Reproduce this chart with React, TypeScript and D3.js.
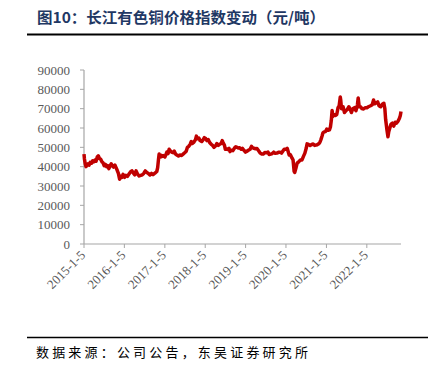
import React from "react";
import * as d3 from "d3";

const dates: string[] = [
  "2015-01-05","2015-01-09","2015-01-16","2015-01-23","2015-01-30","2015-02-10","2015-02-20","2015-03-02","2015-03-13","2015-03-24","2015-04-03","2015-04-14","2015-04-24","2015-05-05","2015-05-14","2015-05-25","2015-06-05","2015-06-16","2015-06-26","2015-07-07","2015-07-17","2015-07-28","2015-08-07","2015-08-18","2015-08-28","2015-09-08","2015-09-18","2015-09-29","2015-10-12","2015-10-22","2015-11-02","2015-11-12","2015-11-23","2015-12-03","2015-12-14","2015-12-24",
  "2016-01-08","2016-01-20","2016-02-02","2016-02-19","2016-03-03","2016-03-14","2016-03-25","2016-04-08","2016-04-20","2016-05-05","2016-05-18","2016-06-01","2016-06-15","2016-06-28","2016-07-12","2016-07-26","2016-08-09","2016-08-23","2016-09-06","2016-09-20","2016-10-10","2016-10-24","2016-11-01","2016-11-08","2016-11-14","2016-11-22","2016-11-29","2016-12-08","2016-12-20",
  "2017-01-05","2017-01-16","2017-01-23","2017-02-03","2017-02-13","2017-02-24","2017-03-07","2017-03-20","2017-03-31","2017-04-12","2017-04-24","2017-05-08","2017-05-22","2017-06-05","2017-06-19","2017-07-03","2017-07-17","2017-07-28","2017-08-08","2017-08-21","2017-09-01","2017-09-11","2017-09-22","2017-10-09","2017-10-17","2017-10-27","2017-11-08","2017-11-20","2017-12-04","2017-12-18","2017-12-28",
  "2018-01-09","2018-01-19","2018-02-01","2018-02-14","2018-03-01","2018-03-13","2018-03-26","2018-04-10","2018-04-20","2018-05-03","2018-05-16","2018-05-29","2018-06-08","2018-06-15","2018-06-28","2018-07-06","2018-07-16","2018-07-27","2018-08-08","2018-08-17","2018-08-30","2018-09-12","2018-09-25","2018-10-08","2018-10-19","2018-10-31","2018-11-12","2018-11-26","2018-12-07","2018-12-20",
  "2019-01-04","2019-01-17","2019-01-30","2019-02-15","2019-02-27","2019-03-08","2019-03-22","2019-04-04","2019-04-18","2019-05-06","2019-05-17","2019-05-31","2019-06-14","2019-06-28","2019-07-12","2019-07-26","2019-08-06","2019-08-20","2019-09-03","2019-09-16","2019-09-30","2019-10-15","2019-10-29","2019-11-12","2019-11-26","2019-12-10","2019-12-20",
  "2020-01-06","2020-01-16","2020-02-03","2020-02-14","2020-02-28","2020-03-09","2020-03-19","2020-03-24","2020-04-03","2020-04-15","2020-04-29","2020-05-15","2020-05-29","2020-06-10","2020-06-24","2020-07-06","2020-07-14","2020-07-27","2020-08-10","2020-08-24","2020-09-07","2020-09-21","2020-10-13","2020-10-27","2020-11-06","2020-11-16","2020-11-27","2020-12-04","2020-12-15","2020-12-28",
  "2021-01-08","2021-01-20","2021-02-01","2021-02-10","2021-02-18","2021-02-25","2021-03-05","2021-03-15","2021-03-26","2021-04-08","2021-04-20","2021-04-30","2021-05-10","2021-05-14","2021-05-21","2021-06-04","2021-06-17","2021-06-30","2021-07-12","2021-07-26","2021-08-05","2021-08-19","2021-08-31","2021-09-15","2021-09-29","2021-10-12","2021-10-19","2021-10-28","2021-11-09","2021-11-22","2021-12-06","2021-12-20",
  "2022-01-06","2022-01-19","2022-02-08","2022-02-23","2022-03-07","2022-03-17","2022-03-30","2022-04-13","2022-04-25","2022-05-10","2022-05-25","2022-06-08","2022-06-17","2022-06-24","2022-07-06","2022-07-15","2022-07-22","2022-08-01","2022-08-12","2022-08-24","2022-09-05","2022-09-19","2022-09-30","2022-10-14","2022-10-27","2022-11-04","2022-11-10"
];

const prices: number[] = [
  46500,44000,41500,40000,40800,41500,40800,42200,41800,43000,42500,43400,42800,45000,45600,44200,43800,42500,42000,40500,41200,40000,40600,39000,40200,41500,40500,39800,40800,39500,38000,36500,33500,35000,34500,36000,
  34500,35500,35000,36500,37500,37800,36800,35800,37800,36000,35200,35500,35800,36500,37800,37000,36500,35700,36500,35900,36800,37500,39500,43500,46500,45000,46000,45200,45800,
  45000,46500,47500,46800,49000,48200,47500,47200,48000,46500,46000,45500,46000,45800,46500,47200,48000,50000,50500,51500,53000,52000,52500,54000,55800,54500,54800,53500,53000,54000,55000,
  54600,53500,54000,52500,51500,51000,50000,50800,52000,51000,51600,52000,53500,52500,51000,49000,49200,48900,49500,47800,48500,48300,49500,50300,50000,49600,49800,49000,49500,48500,
  47500,48000,48500,49000,50500,49800,49500,49300,49400,48000,47000,46500,46500,47300,47200,47600,46300,46500,46800,47500,46900,47000,47400,47500,47000,48200,49000,
  49000,49500,46000,46200,44500,43500,37500,37000,39000,41800,42500,43400,43500,45200,47000,49500,51800,51500,51000,51500,51700,51000,51300,51800,52500,54000,56000,57500,58000,58200,
  59500,58800,59000,60500,64000,69000,66000,67000,66500,67000,70500,71500,76000,74500,70000,71000,68000,69000,69500,71000,70000,68000,70000,70500,69000,72000,75500,71000,71000,70000,69800,70500,
  70500,71000,71500,72000,74500,72500,73000,73500,71500,71000,72300,72800,70000,64500,59000,55500,58000,60000,62000,62500,61000,63000,62500,63500,65000,66500,68500
];

const yTicks: number[] = [0, 10000, 20000, 30000, 40000, 50000, 60000, 70000, 80000, 90000];
const xTickLabels: string[] = ["2015-1-5","2016-1-5","2017-1-5","2018-1-5","2019-1-5","2020-1-5","2021-1-5","2022-1-5"];

const titleText = "图10：长江有色铜价格指数变动（元/吨）";
const sourceText = "数据来源：公司公告，东吴证券研究所";

const parse = d3.timeParse("%Y-%m-%d");

export default function App() {
  const W = 441, H = 377;
  const x0 = 84, x1 = 401, yTop = 70, yBot = 244;
  const data = dates.map((d, i) => ({ date: parse(d) as Date, value: prices[i] }));
  const x = d3.scaleTime()
    .domain([parse("2015-01-05") as Date, parse("2022-11-10") as Date])
    .range([x0, x1]);
  const y = d3.scaleLinear().domain([0, 90000]).range([yBot, yTop]);
  const line = d3.line<{ date: Date; value: number }>()
    .x(d => x(d.date))
    .y(d => y(d.value));
  const tickDates = xTickLabels.map(s => {
    const [yy, mm, dd] = s.split("-").map(Number);
    return new Date(yy, mm - 1, dd);
  });
  const axisColor = "#a6a6a6";
  const textColor = "#595959";
  return (
    <div style={{ position: "absolute", left: 0, top: 0 }}>
      <svg width={W} height={H} style={{ display: "block", background: "#fff" }}>
        <text x={37} y={23} fontFamily="'Noto Sans CJK SC', sans-serif" fontWeight="bold" fontSize={15}
          fill="#1f3864" textLength={288} lengthAdjust="spacingAndGlyphs">{titleText}</text>
        <line x1={27} x2={428} y1={34.5} y2={34.5} stroke="#000" strokeWidth={2} />

        {yTicks.map(t => (
          <g key={t}>
            <line x1={x0 - 4} x2={x0} y1={y(t)} y2={y(t)} stroke={axisColor} strokeWidth={1} />
            <text x={70} y={y(t)} dy="0.35em" textAnchor="end" fontFamily="'Liberation Serif', serif"
              fontSize={13} fill={textColor}>{t}</text>
          </g>
        ))}
        <line x1={x0} x2={x0} y1={yTop} y2={yBot} stroke={axisColor} strokeWidth={1.2} />
        <line x1={x0} x2={x1} y1={yBot} y2={yBot} stroke={axisColor} strokeWidth={1.2} />
        {tickDates.map((d, i) => {
          const tx = x(d);
          return (
            <g key={i}>
              <line x1={tx} x2={tx} y1={yBot} y2={yBot + 4} stroke={axisColor} strokeWidth={1} />
              <text transform={`translate(${tx + 2},${yBot + 12}) rotate(-45)`} textAnchor="end"
                fontFamily="'Liberation Serif', serif" fontSize={13} fill={textColor}>{xTickLabels[i]}</text>
            </g>
          );
        })}

        <path d={line(data) || ""} fill="none" stroke="#c00000" strokeWidth={3.5} strokeLinejoin="round" />

        <line x1={27} x2={428} y1={337.5} y2={337.5} stroke="#000" strokeWidth={1.5} />
        <text x={36} y={357} fontFamily="'Noto Sans CJK SC', sans-serif" fontSize={13} fill="#000"
          textLength={272} lengthAdjust="spacing">{sourceText}</text>
      </svg>
    </div>
  );
}
